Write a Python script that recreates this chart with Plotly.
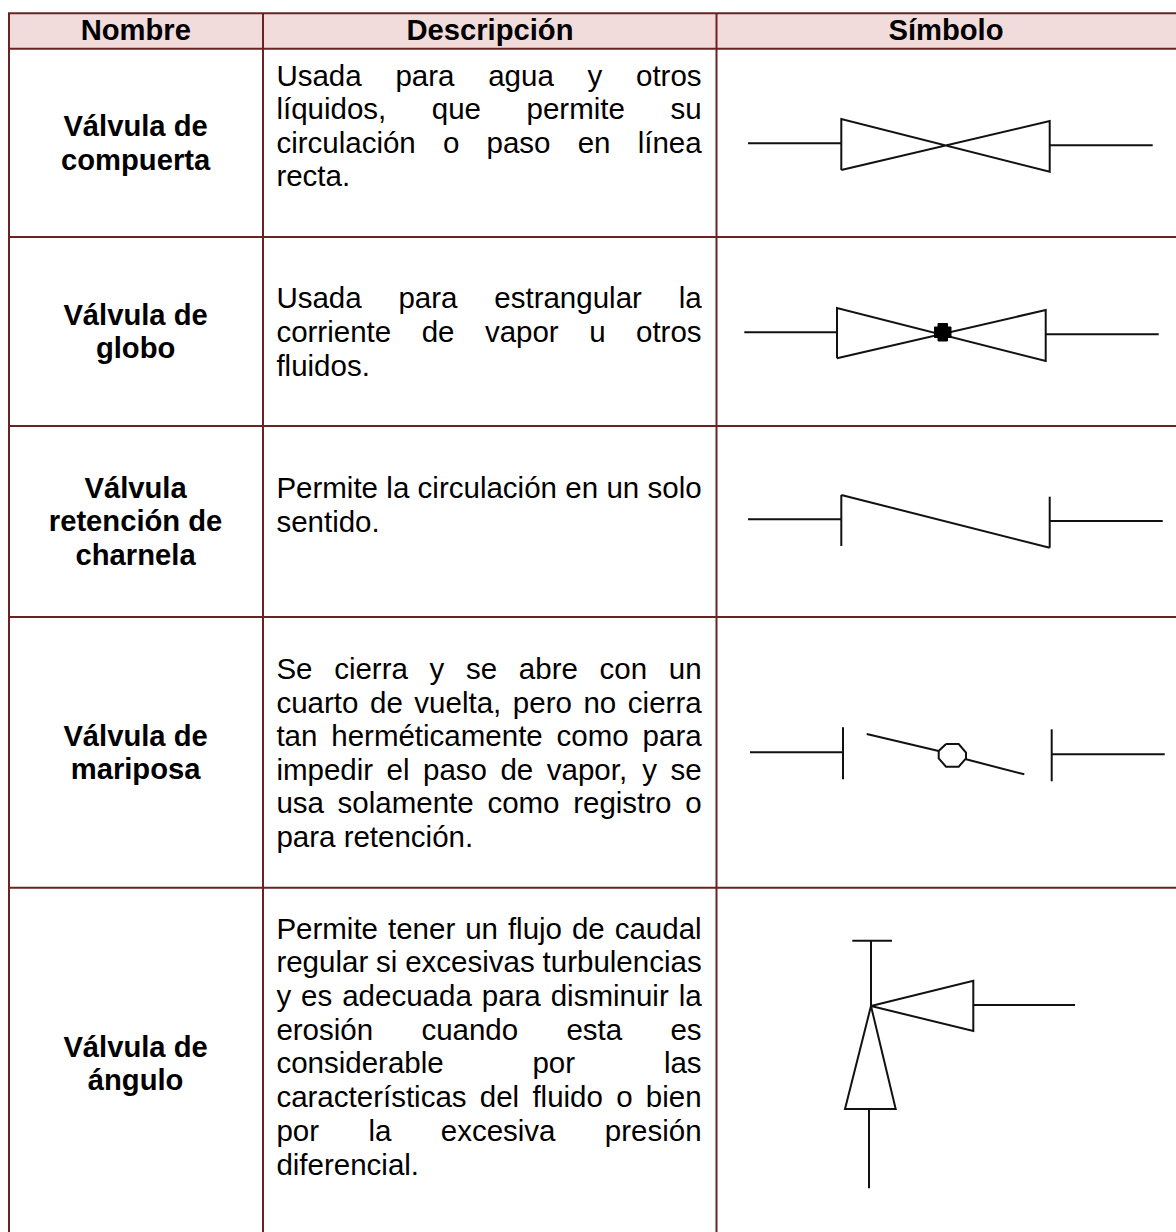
import plotly.graph_objects as go

FONT = "Liberation Sans"
FS = 29.5
BOLD_FS = 29.2
BORDER = "#6a2322"
HEADER_BG = "#f2dcdb"
LEFT, RIGHT = 276.4, 701.6   # description column margins

# Arial / Liberation Sans advance widths (em)
W_REG = dict(a=.556, b=.556, c=.5, d=.556, e=.556, f=.278, g=.556, h=.556, i=.222, j=.222,
             k=.5, l=.222, m=.833, n=.556, o=.556, p=.556, q=.556, r=.333, s=.5, t=.278,
             u=.556, v=.5, w=.722, x=.5, y=.5, z=.5, P=.667, S=.667, U=.722)
W_REG.update({"á": .556, "é": .556, "í": .278, "ó": .556, "ú": .556, ",": .278, ".": .278})
SPACE = .278


def word_width(word):
    return sum(W_REG[c] for c in word) * FS


# table geometry
col_lines = [9, 263, 716.5]
row_lines = [13.3, 48.7, 236.9, 426, 617, 887.7]

# headers
header_labels = ["Nombre", "Descripción", "Símbolo"]
header_x = [135.8, 490, 946]
header_y = [40, 40, 40]

# names
name_lines = ["Válvula de", "compuerta", "Válvula de", "globo",
              "Válvula", "retención de", "charnela",
              "Válvula de", "mariposa", "Válvula de", "ángulo"]
name_y = [136, 170, 325, 358.5, 498, 531.5, 565, 746, 779.5, 1056.7, 1090.5]
name_x = [135.6] * len(name_lines)

# description paragraphs: the last line of each is left aligned, others justified
row1_lines = ["Usada para agua y otros", "líquidos, que permite su",
              "circulación o paso en línea", "recta."]
row1_y = [85.7, 119.3, 152.7, 186]

row2_lines = ["Usada para estrangular la", "corriente de vapor u otros", "fluidos."]
row2_y = [307.7, 342, 376]

row3_lines = ["Permite la circulación en un solo", "sentido."]
row3_y = [498.3, 531.7]

row4_lines = ["Se cierra y se abre con un", "cuarto de vuelta, pero no cierra",
              "tan herméticamente como para", "impedir el paso de vapor, y se",
              "usa solamente como registro o", "para retención."]
row4_y = [679.3, 712.7, 746, 780, 813.3, 846.7]

row5_lines = ["Permite tener un flujo de caudal", "regular si excesivas turbulencias",
              "y es adecuada para disminuir la", "erosión cuando esta es",
              "considerable por las", "características del fluido o bien",
              "por la excesiva presión", "diferencial."]
row5_y = [939, 972.3, 1006, 1040, 1073.3, 1107.3, 1141.3, 1174.7]

# symbol polylines (x list, y list)
sym1 = [
    ([748, 841.3], [143.3, 143.3]),
    ([841.3, 841.3, 1049.7, 1049.7, 841.3, 841.3], [170, 119, 171.7, 121, 170, 170]),
    ([1049.7, 1152.7], [145.3, 145.3]),
]
sym2 = [
    ([744.3, 837], [332.3, 332.3]),
    ([837, 837, 1045.7, 1045.7, 837], [358.3, 308, 361, 310, 358.3]),
    ([1045.7, 1158.7], [334.3, 334.3]),
]
sym2_dot_x = [938, 947.5, 947.5, 951, 951, 947.5, 947.5, 938, 938, 934.5, 934.5, 938, 938]
sym2_dot_y = [323.5, 323.5, 327, 327, 337.5, 337.5, 341, 341, 337.5, 337.5, 327, 327, 323.5]
sym3 = [
    ([748, 841.3], [519.3, 519.3]),
    ([841.3, 841.3], [546, 495]),
    ([841.3, 1049.7], [495, 547.7]),
    ([1049.7, 1049.7], [547.7, 496.7]),
    ([1049.7, 1162.7], [521, 521]),
]
sym4 = [
    ([750, 843], [752.3, 752.3]),
    ([843, 843], [727.3, 779.3]),
    ([866.7, 938.7], [734, 751]),
    ([946, 958.7, 966, 966, 958.7, 946, 938.7, 938.7, 946],
     [744, 744, 752.7, 758.3, 766.7, 766.7, 758.3, 751, 744]),
    ([966, 1024.3], [759.3, 774.3]),
    ([1051.7, 1051.7], [729.3, 781.3]),
    ([1051.7, 1164.7], [754.3, 754.3]),
]
sym5 = [
    ([852.3, 892], [940.7, 940.7]),
    ([871, 871], [940.7, 1006]),
    ([871, 973.3, 973.3, 871], [1006, 980.7, 1031, 1006]),
    ([973.3, 1075], [1005, 1005]),
    ([871, 845, 895.7, 871], [1006, 1109, 1109, 1006]),
    ([869, 869], [1109, 1188.3]),
]

fig = go.Figure()

# table lines
W, H = 1176, 1232
shapes = [dict(type="rect", x0=col_lines[0], x1=W, y0=row_lines[0], y1=row_lines[1],
               fillcolor=HEADER_BG, line_width=0, layer="below")]
for y in row_lines:
    shapes.append(dict(type="line", x0=col_lines[0] - 1, x1=W, y0=y, y1=y,
                       line=dict(color=BORDER, width=2), layer="below"))
for x in col_lines:
    shapes.append(dict(type="line", x0=x, x1=x, y0=row_lines[0], y1=H,
                       line=dict(color=BORDER, width=2), layer="below"))

# symbols
for sym in (sym1, sym2, sym3, sym4, sym5):
    for xs, ys in sym:
        fig.add_trace(go.Scatter(x=xs, y=ys, mode="lines", showlegend=False, hoverinfo="skip",
                                 line=dict(color="#111111", width=2)))
fig.add_trace(go.Scatter(x=sym2_dot_x, y=sym2_dot_y, mode="lines", fill="toself",
                         fillcolor="#000000", line=dict(color="#000000", width=1),
                         showlegend=False, hoverinfo="skip"))

# bold centred text (plotly puts the baseline 0.25 em under a 'middle' text point)
fig.add_trace(go.Scatter(x=header_x + name_x,
                         y=[v - 0.25 * BOLD_FS for v in header_y + name_y],
                         text=[f"<b>{t}</b>" for t in header_labels + name_lines],
                         mode="text", textposition="middle center", showlegend=False, hoverinfo="skip",
                         textfont=dict(family=FONT, size=BOLD_FS, color="#000000")))

# justified description text
wx, wy, wt = [], [], []
for lines, ys in ((row1_lines, row1_y), (row2_lines, row2_y), (row3_lines, row3_y),
                  (row4_lines, row4_y), (row5_lines, row5_y)):
    for i, (line, y) in enumerate(zip(lines, ys)):
        words = line.split()
        widths = [word_width(w) for w in words]
        if i == len(lines) - 1 or len(words) == 1:
            gap = SPACE * FS
        else:
            gap = (RIGHT - LEFT - sum(widths)) / (len(words) - 1)
        x = LEFT
        for w, ww in zip(words, widths):
            wx.append(x)
            wy.append(y - 0.25 * FS)
            wt.append(w)
            x += ww + gap
fig.add_trace(go.Scatter(x=wx, y=wy, text=wt, mode="text", textposition="middle right",
                         showlegend=False, hoverinfo="skip",
                         textfont=dict(family=FONT, size=FS, color="#000000")))

fig.update_layout(width=W, height=H, margin=dict(l=0, r=0, t=0, b=0),
                  paper_bgcolor="white", plot_bgcolor="white", shapes=shapes,
                  xaxis=dict(range=[0, W], visible=False, fixedrange=True),
                  yaxis=dict(range=[H, 0], visible=False, fixedrange=True))
fig.write_html("out.html", config=dict(displayModeBar=False),
               post_script="document.body.style.margin='0';document.body.style.overflow='hidden';")
